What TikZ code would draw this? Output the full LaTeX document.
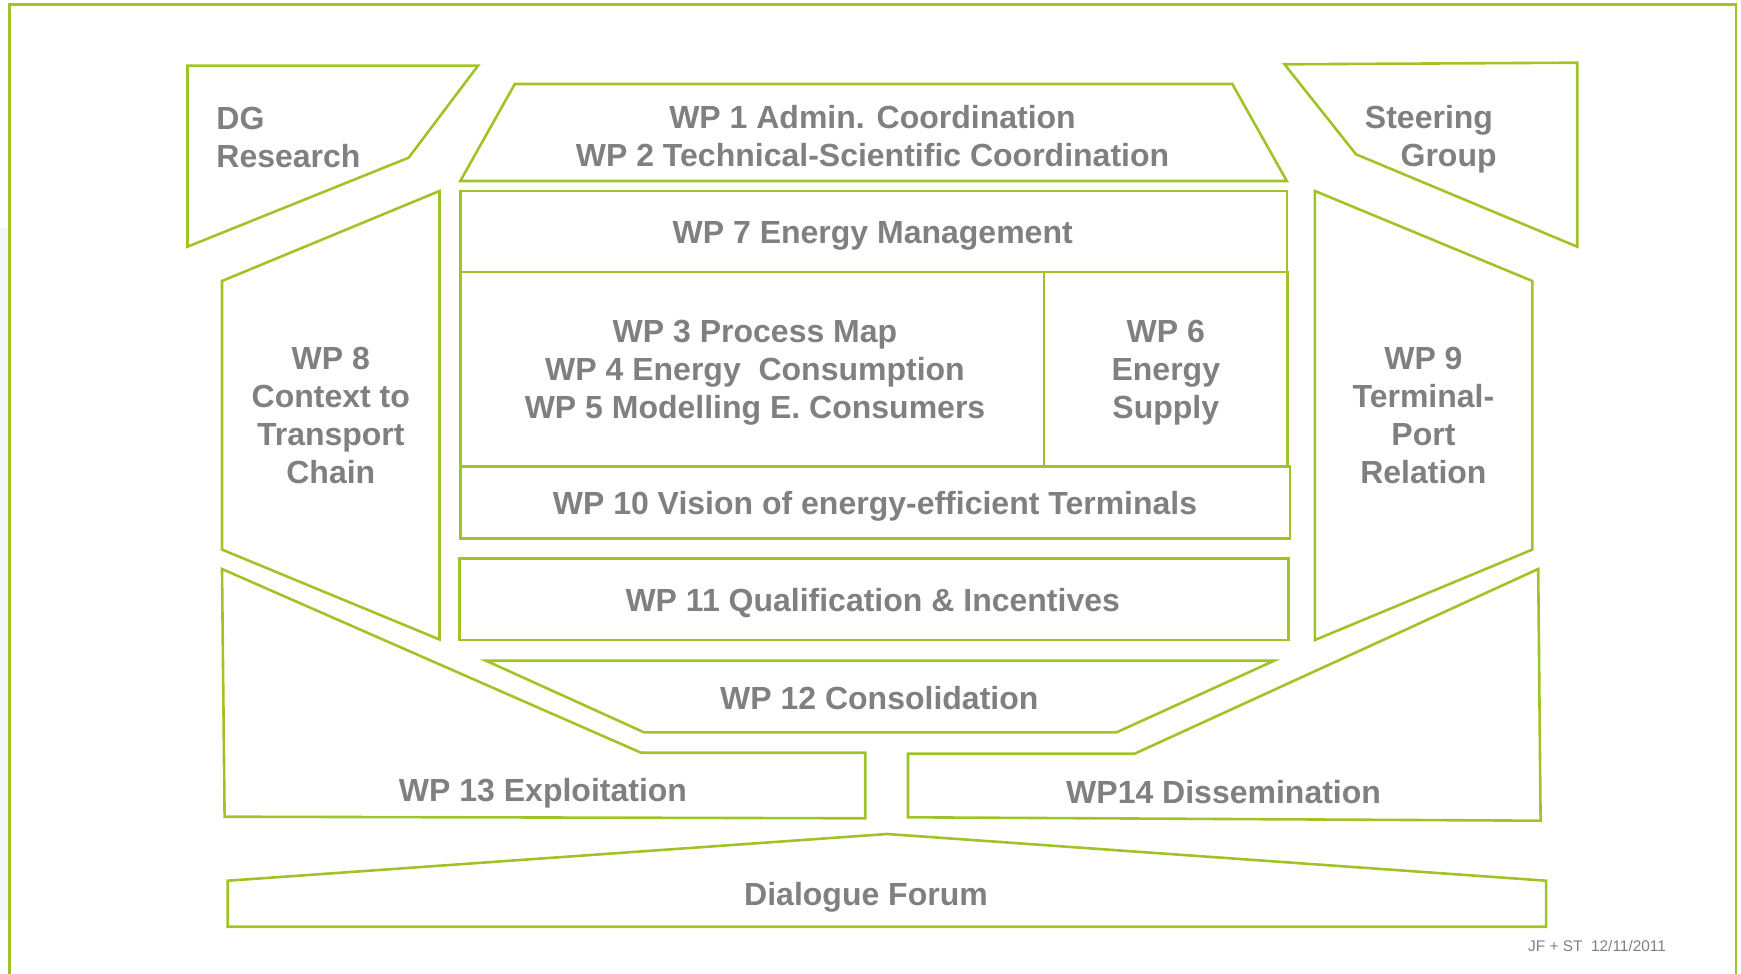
\documentclass[tikz,border=0pt]{standalone}
\usepackage{fontspec}
\setmainfont{Liberation Sans}
\definecolor{wpgreen}{RGB}{160,196,40}
\definecolor{wpgray}{RGB}{128,128,128}
\begin{document}
\begin{tikzpicture}[x=0.5pt,y=-0.5pt,
  box/.style={draw=wpgreen, line width=1.3pt, line join=miter},
  lbl/.style={text=wpgray, font=\bfseries\fontsize{16}{19}\selectfont, inner sep=0pt, align=center},
  note/.style={text=wpgray, font=\fontsize{7.7}{9}\selectfont, inner sep=0pt}]
\useasboundingbox (0,0) rectangle (1741,974);
\clip (0,0) rectangle (1741,974);
\fill[white] (0,0) rectangle (1741,974);
\fill[gray!7] (0,228) rectangle (8,920);
% outer frame
\draw[box] (9.5,990) -- (9.5,4.7) -- (1736,4.7) -- (1736,990);
% DG Research
\draw[box] (187.5,65.7) -- (478,65.7) -- (408.7,157.7) -- (187.5,246.7) -- cycle;
% Steering Group
\draw[box] (1284.5,64.3) -- (1577.2,62.7) -- (1577.2,246.7) -- (1356,154.3) -- cycle;
% WP1/2
\draw[box] (514.8,84) -- (1232.3,84) -- (1286.8,181) -- (460.3,181) -- cycle;
% WP7
\draw[box] (460.3,191) rectangle (1286.8,272);
% WP3-5 and WP6
\draw[box] (460.3,272) rectangle (1287.3,466.7);
\draw[box] (1044,272) -- (1044,466.7);
% WP10
\draw[box] (460.3,466.7) rectangle (1290,538.3);
% WP11
\draw[box] (459.5,558.3) rectangle (1288.7,640);
% WP12
\draw[box] (486,660.7) -- (1274.2,660.7) -- (1116.6,732.3) -- (644,732.3) -- cycle;
% WP8
\draw[box] (439.5,191) -- (222,281) -- (222,549.6) -- (439.5,639.5) -- cycle;
% WP9
\draw[box] (1314.9,191) -- (1532.3,281) -- (1532.3,549.6) -- (1314.9,640) -- cycle;
% WP13
\draw[box] (222,569) -- (641,752.7) -- (865.2,752.7) -- (865.2,818.3) -- (224.6,816.7) -- cycle;
% WP14
\draw[box] (908,753.7) -- (1134.6,753.7) -- (1538.2,569) -- (1540.6,820.7) -- (908,817.3) -- cycle;
% Dialogue Forum
\draw[box] (227.7,880.7) -- (887.3,834) -- (1546.1,880.7) -- (1546.1,926.7) -- (227.7,926.7) -- cycle;

% labels
\node[lbl, align=left, anchor=north west] (dg) at (216,107) {DG\\Research};
\node[lbl, align=right, anchor=north east] (sg) at (1497,105) {Steering\kern1.8pt\\Group};
\node[lbl, anchor=north] (wp12c) at (872.5,105.4) {WP 1 Admin. Coordination\\WP 2 Technical-Scientific Coordination};
\node[lbl, anchor=base] (wp7) at (872.7,243.3) {WP 7 Energy Management};
\node[lbl, anchor=north] (wp345) at (755,319.6) {WP 3 Process Map\\WP 4 Energy~ Consumption\\WP 5 Modelling E. Consumers};
\node[lbl, anchor=north] (wp6) at (1165.8,319.6) {WP 6\\Energy\\Supply};
\node[lbl, anchor=base] (wp10) at (875,514.4) {WP 10 Vision of energy-efficient Terminals};
\node[lbl, anchor=base] (wp11) at (872.7,611) {WP 11 Qualification \& Incentives};
\node[lbl, anchor=base] (wp12) at (879.3,709) {WP 12 Consolidation};
\node[lbl, anchor=base] (wp13) at (543,801.7) {WP 13 Exploitation};
\node[lbl, anchor=base] (wp14) at (1223.6,803) {WP14 Dissemination};
\node[lbl, anchor=base] (forum) at (866,905.2) {Dialogue Forum};
\node[lbl, anchor=north] (wp8) at (330.8,347.1) {WP 8\\Context to\\Transport\\Chain};
\node[lbl, anchor=north] (wp9) at (1423.4,347.1) {WP 9\\Terminal-\\Port\\Relation};
\node[note, anchor=base west] (credit) at (1527.8,951.7) {JF + ST\ \ 12/11/2011};
\end{tikzpicture}
\end{document}
